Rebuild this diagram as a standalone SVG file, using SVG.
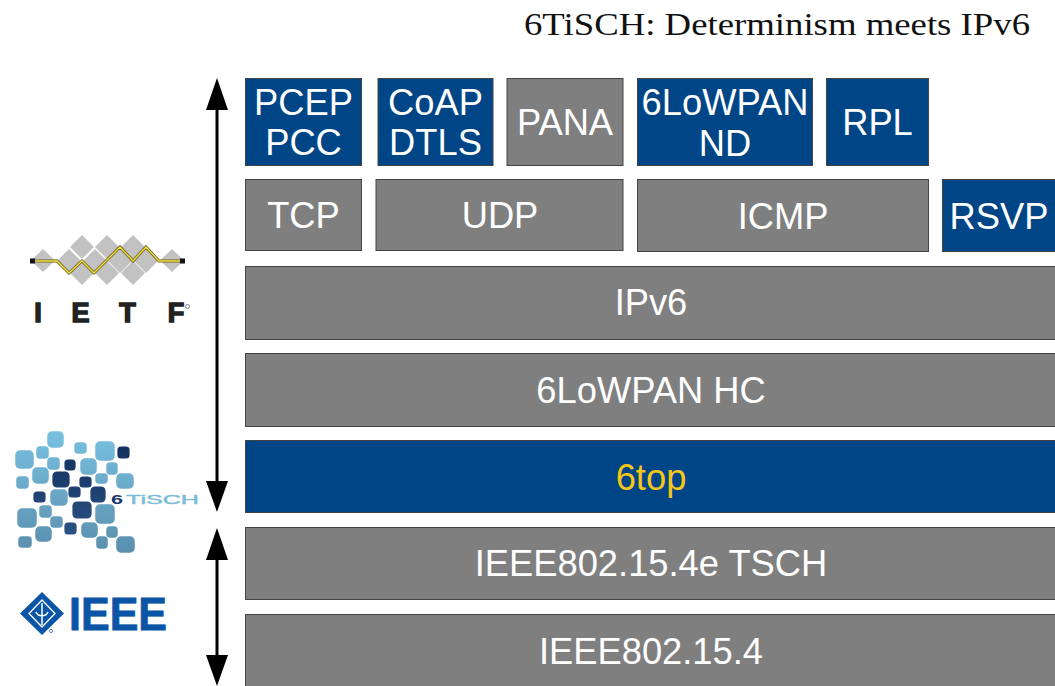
<svg xmlns="http://www.w3.org/2000/svg" width="1055" height="686" viewBox="0 0 1055 686">
<defs>
<linearGradient id="lt" gradientUnits="userSpaceOnUse" x1="0" y1="432" x2="0" y2="552"><stop offset="0" stop-color="#78c0e0"/><stop offset="1" stop-color="#5b8fae"/></linearGradient>
<linearGradient id="dk" gradientUnits="userSpaceOnUse" x1="0" y1="447" x2="0" y2="534"><stop offset="0" stop-color="#12305f"/><stop offset="1" stop-color="#2a5283"/></linearGradient>
</defs>
<style>
text{font-family:"Liberation Sans",Arial,sans-serif}
.b{stroke:#444;stroke-width:1}
.g{fill:#7f7f7f}
.n{fill:#004586}
.t{fill:#fff;font-size:36.300px;text-anchor:middle}
.title{font-family:"Liberation Serif","Times New Roman",serif;font-size:32px;fill:#111}
.ar{stroke:#000;stroke-width:3;fill:none}
.d{fill:#c2c2c2}
.a rect{fill:url(#lt);stroke:url(#lt);stroke-width:1.500}
.k rect{fill:url(#dk);stroke:url(#dk);stroke-width:1.200}
.lg{font-size:27px;font-weight:700;fill:#222;stroke:#222;stroke-width:1.500;text-anchor:middle}
</style>
<rect width="1055" height="686" fill="#fff"/>
<text class="title" x="524" y="35" textLength="506" lengthAdjust="spacingAndGlyphs">6TiSCH: Determinism meets IPv6</text>
<g id="connectors">
<path class="ar" d="M217 108V483"/>
<path d="M217 78L228 110H206ZM217 512L228 481H206Z" fill="#000"/>
<path class="ar" d="M217 558V657"/>
<path d="M217 528L228 560H206ZM217 686L228 655H206Z" fill="#000"/>
</g>
<g id="pcep"><rect class="b n" x="245.500" y="78.500" width="116" height="87"/><text class="t" x="303.500" y="115">PCEP</text><text class="t" x="303.500" y="155">PCC</text></g>
<g id="coap"><rect class="b n" x="378" y="78.500" width="115" height="87"/><text class="t" x="435.500" y="115">CoAP</text><text class="t" x="435.500" y="155">DTLS</text></g>
<g id="pana"><rect class="b g" x="507" y="78.500" width="116" height="87"/><text class="t" x="565" y="135">PANA</text></g>
<g id="lowpan-nd"><rect class="b n" x="637.500" y="78.500" width="175" height="87"/><text class="t" x="725" y="115">6LoWPAN</text><text class="t" x="725" y="156">ND</text></g>
<g id="rpl"><rect class="b n" x="826.500" y="78.500" width="102" height="87"/><text class="t" x="877.500" y="135">RPL</text></g>
<g id="tcp"><rect class="b g" x="245.500" y="179.500" width="116" height="71"/><text class="t" x="303.500" y="228">TCP</text></g>
<g id="udp"><rect class="b g" x="376" y="179.500" width="247" height="71"/><text class="t" x="500" y="228">UDP</text></g>
<g id="icmp"><rect class="b g" x="637.500" y="179.500" width="291" height="72"/><text class="t" x="783" y="229">ICMP</text></g>
<g id="rsvp"><rect class="b n" x="942.500" y="179.500" width="120" height="72"/><text class="t" x="999" y="229">RSVP</text></g>
<g id="ipv6"><rect class="b g" x="245.500" y="266.500" width="820" height="73"/><text class="t" x="651" y="315">IPv6</text></g>
<g id="lowpan-hc"><rect class="b g" x="245.500" y="353.500" width="820" height="73"/><text class="t" x="651" y="403">6LoWPAN HC</text></g>
<g id="sixtop"><rect class="b n" x="245.500" y="440.500" width="820" height="72"/><text class="t" x="651" y="490" style="fill:#f5c518">6top</text></g>
<g id="tsch"><rect class="b g" x="245.500" y="527.500" width="820" height="72"/><text class="t" x="651" y="576">IEEE802.15.4e TSCH</text></g>
<g id="ieee802154"><rect class="b g" x="245.500" y="614.500" width="820" height="80"/><text class="t" x="651" y="664">IEEE802.15.4</text></g>
<g id="ietf-logo">
<g class="d">
<path d="M43 249L55 260.500L43 272L31 260.500Z"/>
<path d="M69 249L81 261L69 273L57 261Z"/>
<path d="M82 235L94 247L82 259L70 247Z"/>
<path d="M95 249L107 261L95 273L83 261Z"/>
<path d="M82 261L94 273L82 285L70 273Z"/>
<path d="M107 235L119 247L107 259L95 247Z"/>
<path d="M107 261L119 273L107 285L95 273Z"/>
<path d="M120 249L132 261L120 273L108 261Z"/>
<path d="M133 235L145 247L133 259L121 247Z"/>
<path d="M133 261L145 273L133 285L121 273Z"/>
<path d="M146 249L158 261L146 273L134 261Z"/>
<path d="M172 249L184 260.500L172 272L160 260.500Z"/>
</g>
<path d="M32 261H57L69 273L82 261L94 273L120 247L133 261L146 247L159 261H182" fill="none" stroke="#6b5a10" stroke-width="3"/>
<path d="M32 261H57L69 273L82 261L94 273L120 247L133 261L146 247L159 261H182" fill="none" stroke="#f2e24a" stroke-width="1.400"/>
<rect x="30" y="258.500" width="5" height="5" fill="#111"/><rect x="180" y="258.500" width="5" height="5" fill="#111"/>
<text class="lg" x="38" y="322">I</text>
<text class="lg" x="80.500" y="322">E</text>
<text class="lg" x="127.500" y="322">T</text>
<text class="lg" x="176" y="322">F</text>
<circle cx="187.500" cy="306.500" r="2" fill="none" stroke="#666" stroke-width=".8"/>
</g>
<g id="sixtisch-logo">
<g class="a">
<rect x="48" y="432" width="15" height="15" rx="4"/>
<rect x="37" y="447" width="11" height="11" rx="3"/>
<rect x="48" y="458" width="11" height="11" rx="3"/>
<rect x="16" y="451" width="17" height="17" rx="4"/>
<rect x="33" y="468" width="15" height="15" rx="4"/>
<rect x="17" y="477" width="11" height="11" rx="3"/>
<rect x="75" y="443" width="11" height="10" rx="3"/>
<rect x="96" y="442" width="18" height="18" rx="4"/>
<rect x="81" y="459" width="15" height="15" rx="4"/>
<rect x="107" y="463" width="10" height="11" rx="3"/>
<rect x="96" y="474" width="11" height="9" rx="3"/>
<rect x="117" y="474" width="16" height="14" rx="4"/>
<rect x="51" y="490" width="16" height="15" rx="4"/>
<rect x="96" y="505" width="18" height="18" rx="4"/>
<rect x="40" y="506" width="11" height="11" rx="3"/>
<rect x="18" y="509" width="18" height="18" rx="4"/>
<rect x="51" y="517" width="11" height="10" rx="3"/>
<rect x="36" y="527" width="15" height="14" rx="4"/>
<rect x="82" y="523" width="15" height="14" rx="4"/>
<rect x="107" y="527" width="10" height="10" rx="3"/>
<rect x="19" y="537" width="12" height="10" rx="3"/>
<rect x="97" y="537" width="10" height="11" rx="3"/>
<rect x="117" y="537" width="17" height="15" rx="4"/>
</g>
<g class="k">
<rect x="118" y="447" width="11" height="11" rx="3"/>
<rect x="65" y="460" width="10" height="10" rx="3"/>
<rect x="53" y="472" width="16" height="15" rx="4"/>
<rect x="80" y="477" width="11" height="10" rx="3"/>
<rect x="69" y="487" width="11" height="10" rx="3"/>
<rect x="91" y="487" width="14" height="15" rx="4"/>
<rect x="34" y="492" width="11" height="10" rx="3"/>
<rect x="73" y="502" width="18" height="16" rx="4"/>
<rect x="65" y="523" width="11" height="11" rx="3"/>
</g>
<text x="111" y="503.500" font-size="13" font-weight="700" fill="#16386c" textLength="12" lengthAdjust="spacingAndGlyphs">6</text>
<text x="126" y="503.500" font-size="13" fill="#7dbcd8" stroke="#7dbcd8" stroke-width=".4" textLength="73" lengthAdjust="spacingAndGlyphs">TiSCH</text>
</g>
<g id="ieee-logo">
<path d="M42 592L64 613.500L42 635L20 613.500Z" fill="#0a55a5"/>
<path d="M42 600L55 613.500L42 627L29 613.500Z" fill="none" stroke="#fff" stroke-width="1.300"/>
<path d="M42 603V625M36 612C38 617 46 617 48 612" fill="none" stroke="#fff" stroke-width="1.500"/>
<circle cx="51" cy="631" r="1.600" fill="none" stroke="#0a55a5" stroke-width=".7"/>
<text x="69" y="630" font-size="46" font-weight="700" fill="#0a55a5" stroke="#0a55a5" stroke-width=".8" textLength="98" lengthAdjust="spacingAndGlyphs">IEEE</text>
</g>
</svg>
